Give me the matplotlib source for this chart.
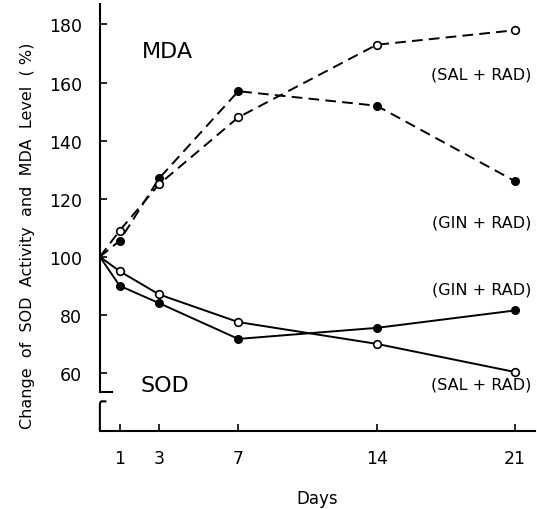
import numpy as np
import matplotlib
matplotlib.use('Agg')
import matplotlib.pyplot as plt
import matplotlib.transforms as mtransforms

days = [0, 1, 3, 7, 14, 21]
mda_gin = [100, 105.5, 127, 157, 152, 126]
mda_sal = [100, 109, 125, 148, 173, 178]
sod_sal = [100, 95, 87, 77.5, 70, 60.3]
sod_gin = [100, 90, 84, 71.7, 75.5, 81.5]

xticks = [1, 3, 7, 14, 21]
yticks = [60, 80, 100, 120, 140, 160, 180]

fig = plt.figure(figsize=(5.37, 5.10), dpi=100)
ax = fig.add_axes([0.186, 0.153, 0.81, 0.837])

lw = 1.4
ms = 5.5
# MDA curves (dashed)
ax.plot(days, mda_gin, color='k', lw=lw, dashes=(5.5, 3.2), marker='o',
        ms=ms, mfc='k', mec='k', markevery=range(1, 6))
ax.plot(days, mda_sal, color='k', lw=lw, dashes=(5.5, 3.2), marker='o',
        ms=ms, mfc='white', mec='k', mew=1.2, markevery=range(1, 6))
# SOD curves (solid)
ax.plot(days, sod_sal, color='k', lw=lw, marker='o', ms=ms, mfc='white',
        mec='k', mew=1.2, markevery=range(1, 6))
ax.plot(days, sod_gin, color='k', lw=lw, marker='o', ms=ms, mfc='k',
        mec='k', markevery=range(1, 6))

ax.set_xlim(0, 22)
ax.set_ylim(40, 187)
ax.set_xticks(xticks)
ax.set_xticklabels([str(d) for d in xticks])
ax.set_yticks(yticks)
ax.set_yticklabels([str(v) for v in yticks])
ax.tick_params(axis='both', direction='in', length=5, width=1.2,
               labelsize=12.5, color='k')
ax.tick_params(axis='y', pad=13)
ax.tick_params(axis='x', pad=13)

for s in ['top', 'right']:
    ax.spines[s].set_visible(False)
ax.spines['left'].set_bounds(53.4, 187)
ax.spines['left'].set_linewidth(1.5)
ax.spines['bottom'].set_linewidth(1.5)

# axis break marks
trans = mtransforms.blended_transform_factory(ax.transAxes, ax.transData)
ax.plot([0, 0.028], [53.4, 53.4], color='k', lw=1.5, transform=trans,
        clip_on=False)
ax.plot([0.015, 0.003, 0, 0], [50.2, 50.2, 49.5, 40], color='k', lw=1.5,
        transform=trans, clip_on=False, solid_capstyle='butt')

ax.text(3.4, 171, 'MDA', fontsize=16, ha='center', va='center')
ax.text(3.3, 55.9, 'SOD', fontsize=16, ha='center', va='center')
lx = 19.3
ax.text(lx, 163, '(SAL + RAD)', fontsize=11.5, ha='center', va='center')
ax.text(lx, 112, '(GIN + RAD)', fontsize=11.5, ha='center', va='center')
ax.text(lx, 89, '(GIN + RAD)', fontsize=11.5, ha='center', va='center')
ax.text(lx, 56.2, '(SAL + RAD)', fontsize=11.5, ha='center', va='center')

ax.set_xlabel('Days', fontsize=12, labelpad=16)
ax.set_ylabel('Change  of  SOD  Activity  and  MDA  Level  ( %)',
              fontsize=11.5)
ax.yaxis.set_label_coords(-0.15, 0.46)

fig.savefig('out.png', dpi=100)
